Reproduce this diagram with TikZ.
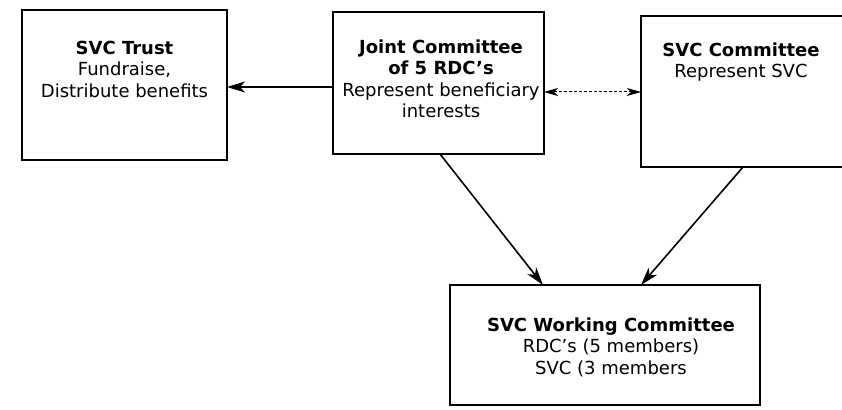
\documentclass[tikz,border=0pt]{standalone}
\usepackage{fontspec}
\setmainfont{DejaVu Sans}
\usetikzlibrary{arrows.meta}
\begin{document}
\begin{tikzpicture}[x=1pt,y=-1pt,
  orgbox/.style={draw, line width=1.3pt, fill=white},
  boxtext/.style={align=center, inner sep=0pt, font=\fontsize{18}{21.5}\selectfont},
  link/.style={line width=1.6pt, -{Stealth[length=18pt,width=11pt,inset=5pt]}},
  duallink/.style={line width=1pt, dash pattern=on 3pt off 2pt,
    {Stealth[length=14pt,width=8pt,inset=4pt]}-{Stealth[length=14pt,width=8pt,inset=4pt]}}]
  \useasboundingbox (0,0) rectangle (842,409);
  % boxes
  \draw[orgbox] (22,10) rectangle (227,160);
  \draw[orgbox] (333,12) rectangle (544,154);
  \draw[orgbox] (641,16) rectangle (845,167);
  \draw[orgbox] (450,285) rectangle (760,405);
  % points on the box edges where connectors meet
  \coordinate (trustE) at (227,87);
  \coordinate (jointW) at (333,87);
  \coordinate (jointE) at (544,92);
  \coordinate (svcW) at (641,92);
  \coordinate (jointS) at (440,154);
  \coordinate (svcS) at (743,167);
  \coordinate (workNW) at (543,285);
  \coordinate (workNE) at (641,285);
  % box texts
  \node[boxtext] (trustT) at (124.5,69) {\textbf{SVC Trust}\\Fundraise,\\Distribute benefits};
  \node[boxtext] (jointT) at (441,79) {\textbf{Joint Committee}\\\textbf{of 5 RDC's}\\Represent beneficiary\\interests};
  \node[boxtext] (svcT) at (741,62) {\textbf{SVC Committee}\\Represent SVC};
  \node[boxtext] (workT) at (611,347) {\textbf{SVC Working Committee}\\RDC's (5 members)\\SVC (3 members};
  % connectors
  \draw[link] (jointW) -- (trustE);
  \draw[duallink] (jointE) -- (svcW);
  \draw[link] (jointS) -- (workNW);
  \draw[link] (svcS) -- (workNE);
\end{tikzpicture}
\end{document}
